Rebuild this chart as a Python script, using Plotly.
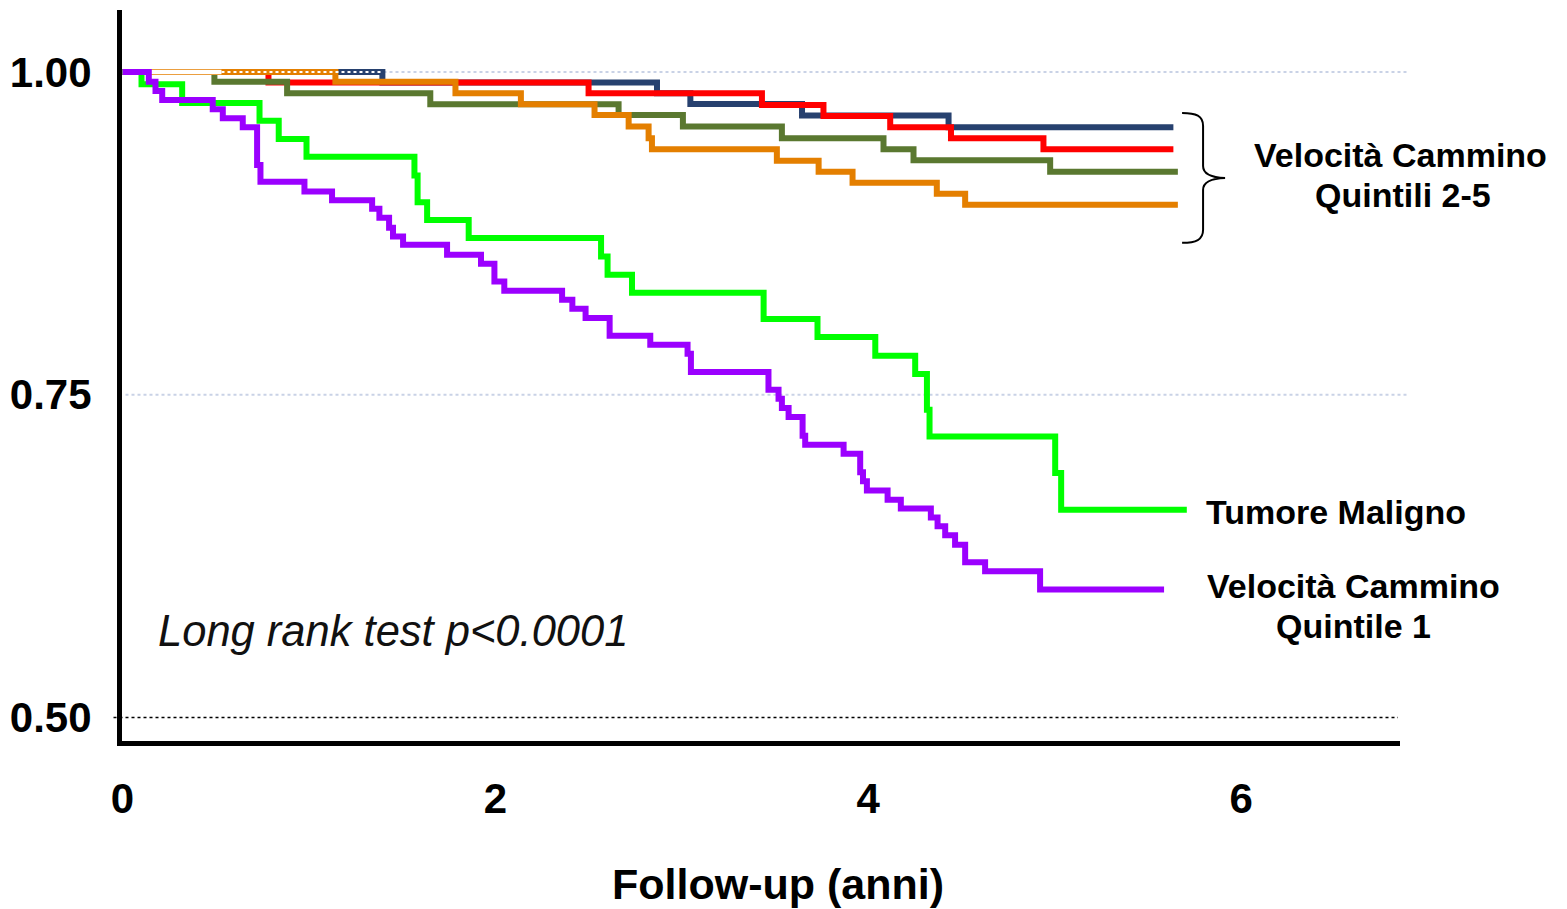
import plotly.graph_objects as go

# Kaplan-Meier step curves: time of each drop (years) and survival after it
navy_t = [0, 1.394, 2.867, 3.046, 3.645, 4.431, 5.637]
navy_s = [1.0, 0.9919, 0.9835, 0.9752, 0.9663, 0.9572, 0.9572]

red_t = [0, 0.783, 2.500, 3.430, 3.760, 4.118, 4.444, 4.940, 5.637]
red_s = [1.0, 0.9919, 0.9835, 0.9745, 0.9659, 0.9572, 0.9487, 0.9402, 0.9402]

olive_t = [0, 0.493, 0.883, 1.651, 2.661, 3.006, 3.537, 4.082, 4.243, 4.976, 5.661]
olive_s = [1.0, 0.9925, 0.9835, 0.9750, 0.9667, 0.9577, 0.9487, 0.9402, 0.9317, 0.9228, 0.9228]

orange_t = [0, 1.142, 1.786, 2.137, 2.532, 2.715, 2.822, 2.840, 3.510, 3.734, 3.916,
            4.368, 4.520, 5.661]
orange_s = [1.0, 0.9925, 0.9835, 0.9750, 0.9667, 0.9577, 0.9487, 0.9402, 0.9313, 0.9228,
            0.9141, 0.9056, 0.8971, 0.8971]

green_t = [0, 0.102, 0.320, 0.735, 0.838, 0.987, 1.566, 1.583, 1.634, 1.857, 2.567, 2.602,
           2.733, 3.439, 3.728, 4.038, 4.252, 4.315, 4.329, 5.003, 5.035, 5.709]
green_s = [1.0, 0.9905, 0.9760, 0.9623, 0.9481, 0.9344, 0.9199, 0.8991, 0.8854, 0.8713,
           0.8570, 0.8429, 0.8289, 0.8086, 0.7947, 0.7802, 0.7660, 0.7384, 0.7177, 0.6894,
           0.6610, 0.6610]

purple_t = [0, 0.141, 0.177, 0.213, 0.484, 0.538, 0.645, 0.722, 0.740, 0.976, 1.124, 1.339,
            1.378, 1.430, 1.451, 1.505, 1.741, 1.923, 1.995, 2.048, 2.358, 2.413, 2.484,
            2.613, 2.831, 3.031, 3.049, 3.465, 3.519, 3.537, 3.573, 3.648, 3.662, 3.868,
            3.957, 3.972, 3.993, 4.104, 4.175, 4.336, 4.372, 4.413, 4.466, 4.520, 4.627,
            4.922, 5.587]
purple_s = [1.0, 0.9925, 0.9853, 0.9783, 0.9711, 0.9642, 0.9572, 0.9280, 0.9149, 0.9074,
            0.9007, 0.8940, 0.8870, 0.8793, 0.8725, 0.8661, 0.8584, 0.8514, 0.8377, 0.8305,
            0.8235, 0.8166, 0.8094, 0.7957, 0.7887, 0.7817, 0.7676, 0.7539, 0.7469, 0.7397,
            0.7327, 0.7183, 0.7113, 0.7043, 0.6899, 0.6829, 0.6759, 0.6687, 0.6618, 0.6550,
            0.6481, 0.6411, 0.6339, 0.6202, 0.6132, 0.5991, 0.5991]

x_ticks = [0, 2, 4, 6]
y_ticks = [0.50, 0.75, 1.00]
gridline_levels = [1.00, 0.75]
reference_level = 0.50

# time span where the upper curves are drawn hollow / dotted at survival 1.0
hollow_end = 0.531

FONT = "Liberation Sans, Arial, sans-serif"
W, H = 1567, 909
L, R, T, B = 121.5, 1400, 10, 741.5   # plot area in pixels
X0, PX_PER_YEAR = 122, 186.5          # pixel of t=0 and horizontal scale
Y1, PX_PER_UNIT = 72, 1292            # pixel of survival 1.0 and vertical scale
LW = 6


def px(x, y):
    """pixel position -> paper coordinates"""
    return (x - L) / (R - L), (B - y) / (B - T)


fig = go.Figure()

curves = [
    (navy_t, navy_s, "#27416F"),
    (red_t, red_s, "#FF0000"),
    (olive_t, olive_s, "#5A7830"),
    (orange_t, orange_s, "#E47F00"),
]
for t, s, c in curves:
    fig.add_trace(go.Scatter(x=t, y=s, mode="lines", line=dict(color=c, width=LW, shape="hv"),
                             hoverinfo="skip"))

# hollow start of the upper curves, then white dots where they still sit at 1.0
fig.add_trace(go.Scatter(x=[0, hollow_end], y=[1.0, 1.0], mode="lines",
                         line=dict(color="white", width=4.5), hoverinfo="skip"))
fig.add_trace(go.Scatter(x=[hollow_end, navy_t[1]], y=[1.0, 1.0], mode="lines",
                         line=dict(color="white", width=2, dash="dot"), hoverinfo="skip"))

fig.add_trace(go.Scatter(x=green_t, y=green_s, mode="lines",
                         line=dict(color="#00FF00", width=LW, shape="hv"), hoverinfo="skip"))
fig.add_trace(go.Scatter(x=purple_t, y=purple_s, mode="lines",
                         line=dict(color="#9B00FF", width=LW, shape="hv"), hoverinfo="skip"))

shapes = []
for lvl in gridline_levels:
    shapes.append(dict(type="line", xref="paper", yref="y", x0=px(125, 0)[0], x1=px(1407, 0)[0],
                       y0=lvl, y1=lvl, layer="below",
                       line=dict(color="#C9D2E6", width=2, dash="dot")))
shapes.append(dict(type="line", xref="paper", yref="y", x0=px(113, 0)[0], x1=px(1398, 0)[0],
                   y0=reference_level, y1=reference_level, layer="below",
                   line=dict(color="black", width=1.5, dash="dot")))

# curly brace grouping quintiles 2-5
brace_pts = [("M", [(1182, 113)]),
             ("C", [(1196, 113), (1203, 116), (1203, 126)]),
             ("L", [(1203, 166)]),
             ("C", [(1203, 173), (1210, 177.5), (1225, 178)]),
             ("C", [(1210, 178.5), (1203, 183), (1203, 190)]),
             ("L", [(1203, 230)]),
             ("C", [(1203, 240), (1196, 243), (1182, 243)])]
path = ""
for cmd, pts in brace_pts:
    path += cmd + " " + " ".join("%.5f,%.5f" % px(x, y) for x, y in pts) + " "
shapes.append(dict(type="path", xref="paper", yref="paper", path=path.strip(),
                   line=dict(color="black", width=2)))

label_font = dict(family=FONT, size=34, color="black", weight="bold")
annotations = []


def note(text, x, y, font, xanchor="center"):
    xp, yp = px(x, y)
    annotations.append(dict(text=text, x=xp, y=yp, xref="paper", yref="paper",
                            xanchor=xanchor, yanchor="middle", showarrow=False, font=font))


note("Velocità Cammino", 1401, 155, label_font)
note("Quintili 2-5", 1403, 195, label_font)
note("Tumore Maligno", 1336, 512, label_font)
note("Velocità Cammino", 1353, 586, label_font)
note("Quintile 1", 1353, 626, label_font)
note("<i>Long rank test p&lt;0.0001</i>", 156, 631,
     dict(family=FONT, size=43.5, color="#111111"), xanchor="left")
note("Follow-up (anni)", 778, 885, dict(family=FONT, size=43, color="black", weight="bold"))

tick_font = dict(family=FONT, size=42, color="black", weight="bold")

fig.update_layout(
    width=W, height=H,
    margin=dict(l=L, r=W - R, t=T, b=H - B, autoexpand=False),
    paper_bgcolor="white", plot_bgcolor="white",
    showlegend=False,
    shapes=shapes, annotations=annotations,
    xaxis=dict(range=[(L - X0) / PX_PER_YEAR, (R - X0) / PX_PER_YEAR], tickvals=x_ticks,
               showgrid=False, zeroline=False, showline=True, linewidth=5, linecolor="black",
               ticks="", tickfont=tick_font, ticklabelstandoff=17, fixedrange=True),
    yaxis=dict(range=[1 - (B - Y1) / PX_PER_UNIT, 1 + (Y1 - T) / PX_PER_UNIT], tickvals=y_ticks,
               tickformat=".2f", showgrid=False, zeroline=False, showline=True, linewidth=5,
               linecolor="black", ticks="", tickfont=tick_font, ticklabelstandoff=17,
               fixedrange=True),
)

fig.write_html("out.html")
